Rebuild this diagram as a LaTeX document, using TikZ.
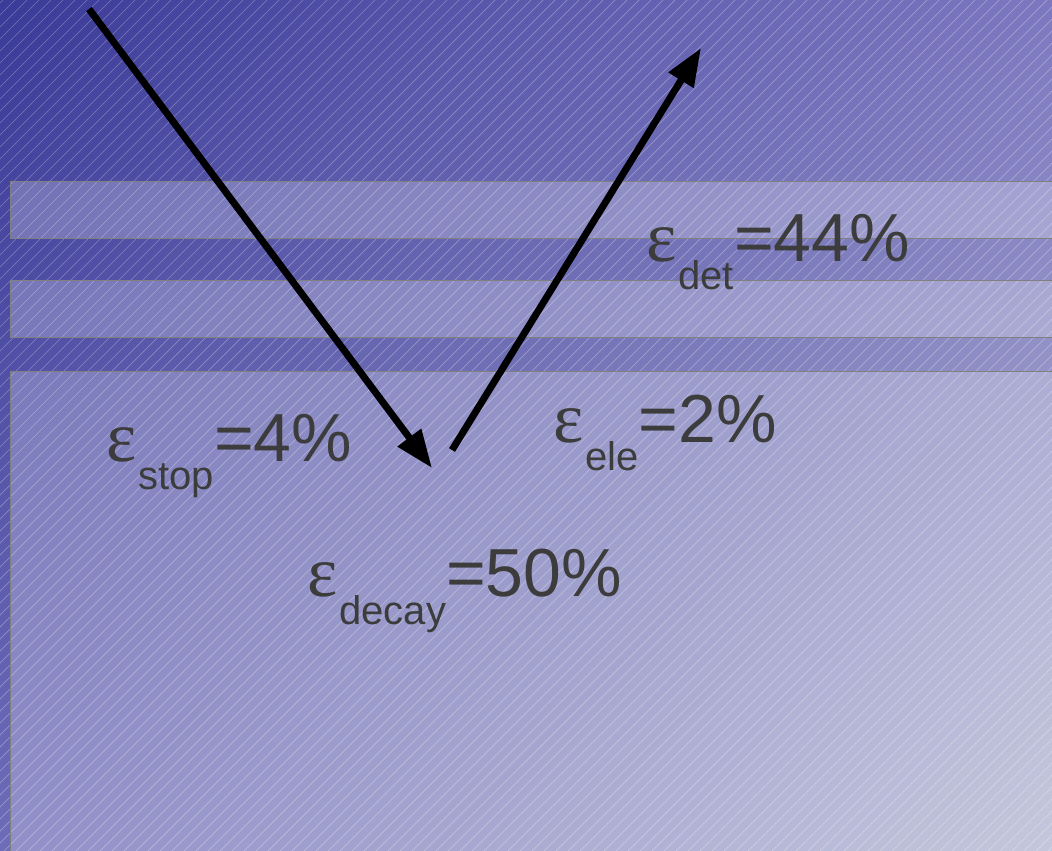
\documentclass[tikz,border=0pt]{standalone}
\usepackage{fontspec}
\setmainfont{Liberation Sans}
\newfontfamily\epsfont{Liberation Serif}
\usepackage{xcolor}
\usepackage{tikz}
\usetikzlibrary{positioning,arrows.meta,calc,shadings}

\definecolor{bgtl}{HTML}{3A3A98}
\definecolor{bgtr}{HTML}{7C78C0}
\definecolor{bgbl}{HTML}{6E6CB8}
\definecolor{bgbr}{HTML}{B2B7D1}
\definecolor{labelgray}{HTML}{3C3C3C}

% epsilon with a subscript and its value
\newcommand{\effval}[2]{{\epsfont\fontsize{72}{74}\selectfont ε}\hspace{2pt}\raisebox{-28pt}{\fontsize{40}{42}\selectfont #1}=#2}

\begin{document}
\begin{tikzpicture}[x=1pt, y=-1pt,
    band/.style={draw=gray, line width=1pt, fill=white, fill opacity=0.24},
    ray/.style={line width=7pt, -{Triangle[length=38pt,width=28pt]}},
    lbl/.style={text=labelgray, font=\fontsize{68}{72}\selectfont, inner sep=0pt, anchor=base west}]
    \useasboundingbox (0,0) rectangle (1052,851);
    \shade[upper left=bgtl, upper right=bgtr, lower left=bgbl, lower right=bgbr] (0,0) rectangle (1052,851);

    % hatching
    \begin{scope}
        \clip (0,0) rectangle (1052,851);
        \foreach \i in {-860,-848,...,1060}
            \draw[white, opacity=0.3, line width=0.7pt] (\i,851) -- ++(851,-851);
    \end{scope}

    % layers
    \draw[band] (10,181) rectangle (1060,238);
    \draw[band] (10,280) rectangle (1060,337);
    \draw[band] (10,371) rectangle (1060,860);

    \node[lbl] (det) at (646,261) {\effval{det}{44\%}};
    \node[lbl] (ele) at (553,442) {\effval{ele}{2\%}};
    \node[lbl] (stop) at (106,461) {\effval{stop}{4\%}};
    \node[lbl] (decay) at (307,596) {\effval{decay}{50\%}};

    \coordinate (inStart) at (89,9);
    \coordinate (inEnd) at (432,468);
    \coordinate (outStart) at (452,450);
    \coordinate (outEnd) at (701,48);
    \draw[ray] (inStart) -- (inEnd);
    \draw[ray] (outStart) -- (outEnd);
\end{tikzpicture}
\end{document}
